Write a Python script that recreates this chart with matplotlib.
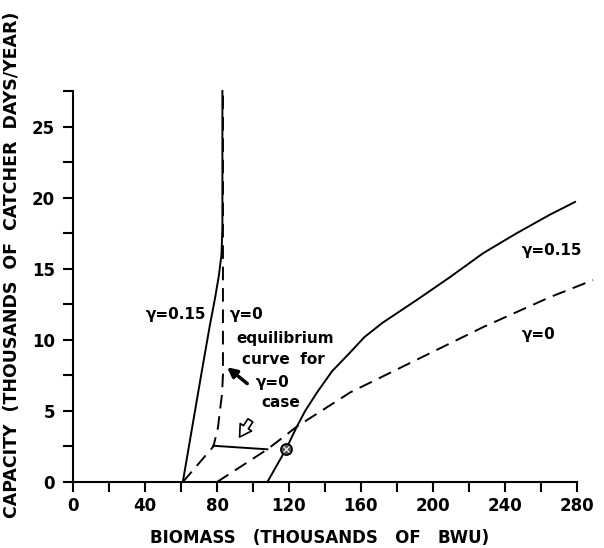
# Capacity vs biomass equilibrium curves (gamma = 0 and gamma = 0.15)
import numpy as np
import matplotlib.pyplot as plt

# curves (biomass in thousands BWU, capacity in thousands catcher days/yr)
left_solid_x = [61, 66, 71.7, 76, 79, 81, 82.5, 83, 83]
left_solid_y = [0, 3.7, 7.9, 11, 13, 14.5, 16, 18, 27.5]

left_dash_x = [61, 78, 80.5, 81.7, 82.8, 83.3, 83.3]
left_dash_y = [0, 2.5, 3.8, 5.1, 6.2, 7.5, 27.5]

path_x = [78, 108]          # short solid segment joining the two gamma=0 curves
path_y = [2.55, 2.3]

right_solid_x = [108, 118.3, 124.4, 129, 135.6, 144, 153.9, 162, 172, 191, 209.4, 228, 246.6, 265, 279]
right_solid_y = [0, 2.3, 3.9, 5.0, 6.3, 7.8, 9.1, 10.2, 11.2, 12.8, 14.4, 16.1, 17.5, 18.8, 19.7]

right_dash_x = [80, 108, 124.4, 154, 191, 228, 265, 289]
right_dash_y = [0, 2.3, 3.9, 6.3, 8.6, 10.9, 13.0, 14.2]

eq_point = (118.3, 2.3)

x_ticks = [0, 40, 80, 120, 160, 200, 240, 280]
y_ticks = [0, 5, 10, 15, 20, 25]

fig = plt.figure(figsize=(6.04, 5.48), dpi=100)
ax = fig.add_axes([0.121, 0.1204, 0.834, 0.7135])

lw = 1.4
dash = (0, (7, 4))
ax.plot(left_solid_x, left_solid_y, color='black', lw=lw, clip_on=False)
ax.plot(left_dash_x, left_dash_y, color='black', lw=lw, ls=dash, clip_on=False)
ax.plot(path_x, path_y, color='black', lw=lw, clip_on=False)
ax.plot(right_solid_x, right_solid_y, color='black', lw=lw, clip_on=False)
ax.plot(right_dash_x, right_dash_y, color='black', lw=lw, ls=dash, clip_on=False)
ax.plot(*eq_point, marker='o', ms=8, mfc='#555555', mec='black', mew=1.2, zorder=5)
ax.plot(*eq_point, marker='x', ms=5, mec='white', mew=0.8, zorder=6)

# text labels
tfont = dict(fontsize=11, fontweight='bold', color='black')
ax.text(57, 11.8, 'γ=0.15', ha='center', va='center', **tfont)
ax.text(87, 11.8, 'γ=0', ha='left', va='center', **tfont)
ax.text(91, 10.1, 'equilibrium', ha='left', va='center', **tfont)
ax.text(117, 8.6, 'curve  for', ha='center', va='center', **tfont)
ax.text(111, 7.0, 'γ=0', ha='center', va='center', **tfont)
ax.text(115.5, 5.6, 'case', ha='center', va='center', **tfont)
ax.text(266, 16.3, 'γ=0.15', ha='center', va='center', **tfont)
ax.text(249.5, 10.4, 'γ=0', ha='left', va='center', **tfont)

# arrows
ax.annotate('', xy=(84.4, 8.2), xytext=(98, 6.8),
            arrowprops=dict(arrowstyle='-|>', lw=2.5, color='black', mutation_scale=14))
ax.annotate('', xy=(91.7, 3.0), xytext=(99.4, 4.5),
            arrowprops=dict(arrowstyle='simple,head_width=0.7,head_length=0.6,tail_width=0.3',
                            fc='white', ec='black', lw=1.2, mutation_scale=14))

ax.set_xlim(0, 280)
ax.set_ylim(0, 27.5)
ax.set_xticks(x_ticks)
ax.set_xticks(np.arange(0, 281, 20), minor=True)
ax.set_yticks(y_ticks)
ax.set_yticks(np.arange(0, 27.6, 2.5), minor=True)
ax.set_xticklabels([str(v) for v in x_ticks], fontsize=12, fontweight='bold')
ax.set_yticklabels([str(v) for v in y_ticks], fontsize=12, fontweight='bold')
ax.tick_params(which='both', direction='out', length=7, width=1.5)
ax.tick_params(axis='x', pad=4)
ax.tick_params(axis='y', pad=6)

for s in ['top', 'right']:
    ax.spines[s].set_visible(False)
for s in ['left', 'bottom']:
    ax.spines[s].set_linewidth(1.5)

ax.set_xlabel('BIOMASS   (THOUSANDS   OF   BWU)', fontsize=12, fontweight='bold')
ax.xaxis.set_label_coords(0.49, -0.12)
ax.set_ylabel('CAPACITY  (THOUSANDS  OF  CATCHER  DAYS/YEAR)', fontsize=12.5,
              fontweight='bold')
ax.yaxis.set_label_coords(-0.103, 0.555)

fig.savefig('out.png', dpi=100)
